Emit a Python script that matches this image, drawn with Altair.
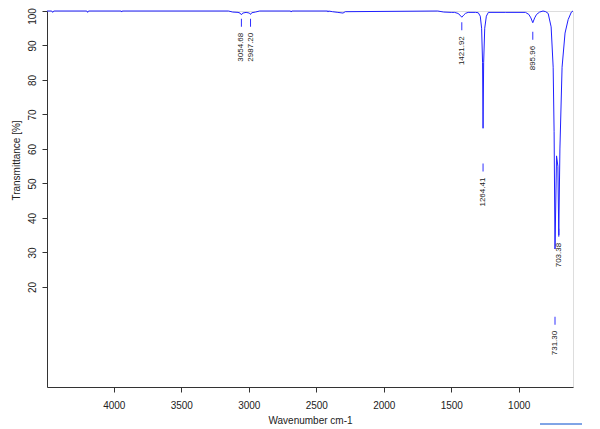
import altair as alt
import pandas as pd

# Spectrum points (wavenumber cm-1, transmittance %)
wavenumber = [4495, 4460, 4453, 4445, 4200, 4194, 4188, 3945, 3942, 3938,
              3150, 3120, 3080, 3065, 3054.68, 3045, 3020, 2995, 2987.2, 2978,
              2950, 2920, 2690, 2686, 2682, 2415, 2413, 2410, 2380, 2340,
              2302, 2285, 1600, 1556, 1500, 1475, 1450, 1435, 1421.92, 1408,
              1395, 1375, 1320, 1300, 1285, 1275, 1268, 1264.41, 1260, 1252,
              1240, 1225, 1100, 950, 925, 910, 895.96, 882, 868, 845,
              820, 800, 782, 760, 745, 738, 731.3, 720, 710, 703.38,
              695, 679, 657, 634, 610, 598]
transmittance = [100, 100, 99.6, 100, 100, 99.6, 100, 100, 99.7, 100,
                 100, 99.7, 99.6, 99.4, 98.9, 99.4, 99.6, 99.4, 99.0, 99.5,
                 99.7, 100, 100, 99.7, 100, 100, 99.7, 100, 99.8, 99.6,
                 99.4, 99.8, 100, 99.7, 99.6, 99.6, 99.3, 98.8, 98.2, 98.8,
                 99.3, 99.6, 99.6, 99.5, 98.5, 95, 85, 66, 85, 95,
                 98.5, 99.6, 99.6, 99.6, 99.0, 98.0, 96.6, 98.0, 99.0, 99.7,
                 100, 99.8, 99.3, 95.4, 83.7, 65, 31, 58, 55, 35,
                 60, 83.7, 93.6, 97.5, 99.7, 100]

# Peak annotations
peak_wn = [3054.68, 2987.20, 1421.92, 1264.41, 895.96, 731.30, 703.38]
peak_text = ["3054.68", "2987.20", "1421.92", "1264.41", "895.96", "731.30", "703.38"]
marker_t = [96.6, 96.6, 95.6, 54.6, 92.8, 10.2, 35.7]

x_ticks = [4000, 3500, 3000, 2500, 2000, 1500, 1000]
y_ticks = [20, 30, 40, 50, 60, 70, 80, 90, 100]

spec = pd.DataFrame({"wn": wavenumber, "t": transmittance})
peaks = pd.DataFrame({"wn": peak_wn, "label": peak_text, "t": marker_t})

FONT = "Liberation Sans"
xscale = alt.Scale(domain=[4495, 598], nice=False, zero=False)
yscale = alt.Scale(domain=[-9, 100], nice=False, zero=False)

xaxis = alt.Axis(values=x_ticks, format="d", title="Wavenumber cm-1", grid=False,
                 labelFont=FONT, labelFontSize=10, labelColor="#222",
                 titleFont=FONT, titleFontSize=10, titleColor="#222",
                 titleFontWeight="normal", tickSize=5, labelPadding=8,
                 tickColor="#333", domainColor="#333",
                 titleBaseline="middle", titleY=33)
yaxis = alt.Axis(values=y_ticks, format="d", title="Transmittance [%]", grid=False,
                 labelFont=FONT, labelFontSize=10, labelColor="#222",
                 labelAngle=270, labelAlign="center", labelBaseline="alphabetic",
                 labelOffset={"condition": {"test": "datum.value == 100", "value": 5},
                              "value": 0},
                 titleFont=FONT, titleFontSize=10, titleColor="#222",
                 titleFontWeight="normal", tickSize=5, labelPadding=7,
                 tickColor="#333", domainColor="#333",
                 titleAngle=270, titleAlign="center", titleBaseline="middle",
                 titleX=-31, titleY=149)

line = alt.Chart(spec).mark_line(color="#2020ff", strokeWidth=1).encode(
    x=alt.X("wn:Q", scale=xscale, axis=xaxis),
    y=alt.Y("t:Q", scale=yscale, axis=yaxis),
)

dashes = alt.Chart(peaks).mark_tick(orient="vertical", size=8, thickness=1,
                                    color="#3030ff", opacity=1).encode(
    x=alt.X("wn:Q", scale=xscale),
    y=alt.Y("t:Q", scale=yscale),
)

labels = alt.Chart(peaks).mark_text(angle=270, align="right", baseline="middle",
                                    font=FONT, fontSize=8, color="#222",
                                    yOffset=10).encode(
    x=alt.X("wn:Q", scale=xscale),
    y=alt.Y("t:Q", scale=yscale),
    text="label:N",
)

legend_line = alt.Chart(peaks).mark_rule(color="#7fa4e6", strokeWidth=1).encode(
    x=alt.value(493), x2=alt.value(535), y=alt.value(413)
)

chart = alt.layer(line, dashes, labels, legend_line).properties(
    width=526, height=376,
    autosize=alt.AutoSizeParams(type="none"),
    padding={"left": 39, "top": 3, "right": 19, "bottom": 41},
).configure_view(stroke="#444", strokeWidth=1).configure(background="white")

chart.save("out.html", embed_options={"renderer": "svg", "actions": False})
